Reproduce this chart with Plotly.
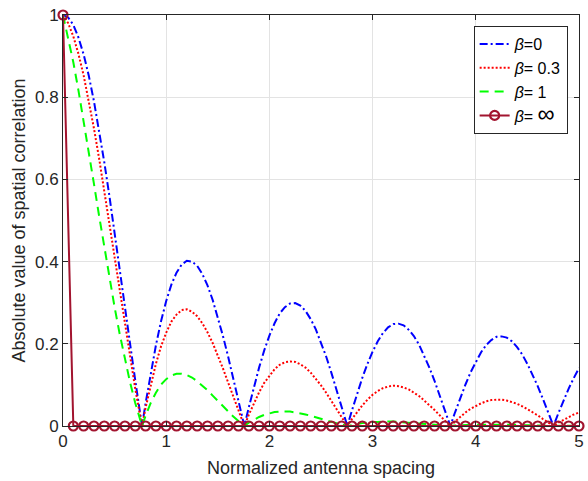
import plotly.graph_objects as go

# Normalized antenna spacing samples (with the null positions included)
spacing = [0.00, 0.05, 0.10, 0.15, 0.20, 0.25, 0.30, 0.35, 0.40, 0.45,
           0.50, 0.55, 0.60, 0.65, 0.70, 0.75, 0.766, 0.80, 0.85, 0.90,
           0.95, 1.00, 1.05, 1.10, 1.15, 1.20, 1.25, 1.30, 1.35, 1.40,
           1.45, 1.50, 1.55, 1.60, 1.65, 1.70, 1.75, 1.757, 1.80, 1.85,
           1.90, 1.95, 2.00, 2.05, 2.10, 2.15, 2.20, 2.25, 2.30, 2.35,
           2.40, 2.45, 2.50, 2.55, 2.60, 2.65, 2.70, 2.75, 2.755, 2.80,
           2.85, 2.90, 2.95, 3.00, 3.05, 3.10, 3.15, 3.20, 3.25, 3.30,
           3.35, 3.40, 3.45, 3.50, 3.55, 3.60, 3.65, 3.70, 3.75, 3.753,
           3.80, 3.85, 3.90, 3.95, 4.00, 4.05, 4.10, 4.15, 4.20, 4.25,
           4.30, 4.35, 4.40, 4.45, 4.50, 4.55, 4.60, 4.65, 4.70, 4.75,
           4.753, 4.80, 4.85, 4.90, 4.95, 5.00]

beta_0 = [1.000, 0.994, 0.976, 0.945, 0.904, 0.852, 0.790, 0.720, 0.642, 0.559,
          0.472, 0.382, 0.291, 0.200, 0.111, 0.026, 0.000, 0.055, 0.129, 0.196,
          0.255, 0.304, 0.344, 0.373, 0.393, 0.402, 0.400, 0.390, 0.370, 0.342,
          0.307, 0.266, 0.219, 0.169, 0.116, 0.062, 0.007, 0.000, 0.045, 0.095,
          0.142, 0.184, 0.220, 0.250, 0.274, 0.289, 0.298, 0.299, 0.293, 0.280,
          0.260, 0.235, 0.204, 0.169, 0.130, 0.089, 0.047, 0.004, 0.000, 0.038,
          0.079, 0.117, 0.151, 0.181, 0.206, 0.226, 0.240, 0.248, 0.249, 0.245,
          0.234, 0.219, 0.198, 0.172, 0.142, 0.110, 0.075, 0.039, 0.002, 0.000,
          0.034, 0.069, 0.101, 0.131, 0.157, 0.179, 0.197, 0.209, 0.217, 0.218,
          0.215, 0.206, 0.192, 0.174, 0.151, 0.126, 0.097, 0.066, 0.034, 0.002,
          0.000, 0.031, 0.062, 0.091, 0.117, 0.141]

beta_03 = [1.000, 0.980, 0.948, 0.905, 0.853, 0.792, 0.724, 0.651, 0.572, 0.491,
           0.408, 0.326, 0.245, 0.166, 0.091, 0.021, 0.000, 0.044, 0.101, 0.151,
           0.194, 0.227, 0.254, 0.271, 0.282, 0.284, 0.278, 0.267, 0.250, 0.228,
           0.202, 0.172, 0.140, 0.106, 0.072, 0.038, 0.004, 0.000, 0.027, 0.056,
           0.082, 0.105, 0.123, 0.138, 0.149, 0.155, 0.157, 0.156, 0.150, 0.142,
           0.130, 0.115, 0.099, 0.081, 0.061, 0.041, 0.021, 0.002, 0.000, 0.017,
           0.035, 0.050, 0.064, 0.076, 0.085, 0.092, 0.096, 0.098, 0.097, 0.094,
           0.089, 0.082, 0.073, 0.062, 0.051, 0.039, 0.026, 0.013, 0.001, 0.000,
           0.011, 0.023, 0.033, 0.042, 0.049, 0.055, 0.060, 0.063, 0.064, 0.064,
           0.062, 0.058, 0.054, 0.048, 0.041, 0.034, 0.026, 0.017, 0.009, 0.001,
           0.000, 0.008, 0.015, 0.022, 0.028, 0.033]

beta_1 = [1.000, 0.946, 0.885, 0.816, 0.743, 0.667, 0.589, 0.511, 0.434, 0.360,
          0.289, 0.223, 0.162, 0.106, 0.056, 0.012, 0.000, 0.025, 0.056, 0.081,
          0.101, 0.114, 0.123, 0.127, 0.127, 0.124, 0.118, 0.109, 0.099, 0.087,
          0.074, 0.061, 0.048, 0.035, 0.023, 0.012, 0.001, 0.000, 0.008, 0.016,
          0.022, 0.027, 0.031, 0.034, 0.035, 0.035, 0.035, 0.033, 0.031, 0.028,
          0.025, 0.021, 0.018, 0.014, 0.010, 0.007, 0.003, 0.000, 0.000, 0.002,
          0.005, 0.007, 0.008, 0.010, 0.010, 0.011, 0.011, 0.011, 0.010, 0.010,
          0.009, 0.008, 0.007, 0.006, 0.004, 0.003, 0.002, 0.001, 0.000, 0.000,
          0.001, 0.002, 0.002, 0.003, 0.003, 0.003, 0.004, 0.004, 0.004, 0.003,
          0.003, 0.003, 0.003, 0.002, 0.002, 0.001, 0.001, 0.001, 0.000, 0.000,
          0.000, 0.000, 0.001, 0.001, 0.001, 0.001]

spacing_inf = [0.0, 0.1, 0.2, 0.3, 0.4, 0.5, 0.6, 0.7, 0.8, 0.9,
               1.0, 1.1, 1.2, 1.3, 1.4, 1.5, 1.6, 1.7, 1.8, 1.9,
               2.0, 2.1, 2.2, 2.3, 2.4, 2.5, 2.6, 2.7, 2.8, 2.9,
               3.0, 3.1, 3.2, 3.3, 3.4, 3.5, 3.6, 3.7, 3.8, 3.9,
               4.0, 4.1, 4.2, 4.3, 4.4, 4.5, 4.6, 4.7, 4.8, 4.9, 5.0]
beta_inf = [1.0] + [0.0] * 50

series_names = ["<i>β</i>=0", "<i>β</i>= 0.3", "<i>β</i>= 1",
                "<i>β</i>= <span style=\"font-size:24px\">∞</span>"]
x_ticks = [0, 1, 2, 3, 4, 5]
y_ticks = [0, 0.2, 0.4, 0.6, 0.8, 1]
y_tick_labels = ["0", "0.2", "0.4", "0.6", "0.8", "1"]

FONT = "Liberation Sans, Arial, Helvetica, sans-serif"
AX = "#262626"

fig = go.Figure()
fig.add_trace(go.Scatter(x=spacing, y=beta_0, mode="lines", name=series_names[0],
                         line=dict(color="#0000FF", width=2, dash="8px,3px,2px,3px")))
fig.add_trace(go.Scatter(x=spacing, y=beta_03, mode="lines", name=series_names[1],
                         line=dict(color="#FF0000", width=2, dash="2px,2px")))
fig.add_trace(go.Scatter(x=spacing, y=beta_1, mode="lines", name=series_names[2],
                         line=dict(color="#00FF00", width=2, dash="9px,6px")))
fig.add_trace(go.Scatter(x=spacing_inf, y=beta_inf, mode="lines+markers", name=series_names[3],
                         cliponaxis=False,
                         line=dict(color="#A2142F", width=2),
                         marker=dict(symbol="circle-open", size=9, color="#A2142F",
                                     line=dict(width=2.2, color="#A2142F"))))

axis_common = dict(showline=True, linecolor=AX, linewidth=1, mirror="ticks",
                   ticks="inside", ticklen=5, tickcolor=AX, showgrid=True,
                   gridcolor="#e3e3e3", gridwidth=1, zeroline=False,
                   ticklabeloverflow="allow",
                   tickfont=dict(family=FONT, size=17, color=AX))

fig.update_layout(
    width=588, height=481,
    margin=dict(l=63, r=4, t=15, b=55),
    paper_bgcolor="white", plot_bgcolor="white",
    font=dict(family=FONT, color=AX),
    xaxis=dict(range=[0, 5], tickvals=x_ticks, **axis_common,
               title=dict(text="Normalized antenna spacing", standoff=10,
                          font=dict(family=FONT, size=18, color=AX))),
    yaxis=dict(range=[0, 1], tickvals=y_ticks, ticktext=y_tick_labels, **axis_common,
               title=dict(text="Absolute value of spatial correlation", standoff=4,
                          font=dict(family=FONT, size=18, color=AX))),
    legend=dict(x=0.978, y=0.973, xanchor="right", yanchor="top",
                bgcolor="white", bordercolor=AX, borderwidth=1,
                font=dict(family=FONT, size=16, color="black"),
                tracegroupgap=0, itemwidth=30),
    showlegend=True,
)

fig.write_html("out.html", config={"displayModeBar": False},
               post_script="document.body.style.margin='0';document.body.style.overflow='hidden';")
